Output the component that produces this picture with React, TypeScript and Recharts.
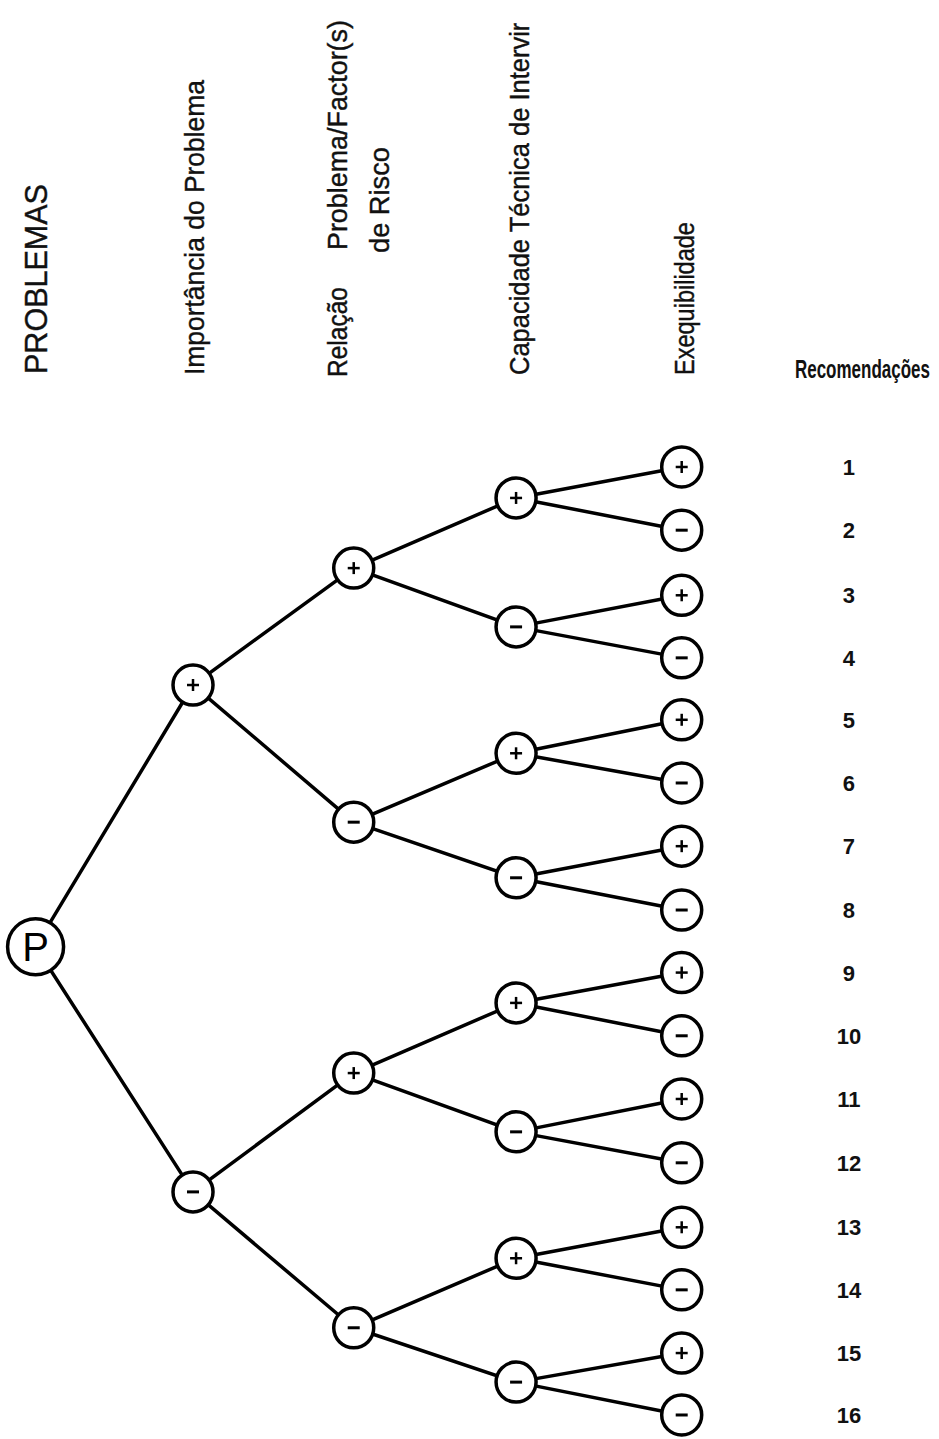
import React from "react";
import { ScatterChart, Scatter, XAxis, YAxis } from "recharts";

// column of each level (x axis) and row of each node (y axis, 1 = first recommendation)
const columns = [0.04, 1, 1.98, 2.97, 3.98, 5];

const headers = [
  ["PROBLEMAS"],
  ["Importância do Problema"],
  ["Relação", "Problema/Factor(s)", "de Risco"],
  ["Capacidade Técnica de Intervir"],
  ["Exequibilidade"],
  ["Recomendações"],
];

const rootRow = 8.59;
const importanciaRows = [4.45, 12.47];
const relacaoRows = [2.6, 6.62, 10.59, 14.62];
const capacidadeRows = [1.49, 3.53, 5.53, 7.5, 9.48, 11.52, 13.52, 15.48];
const exequibilidadeRows = [1, 2, 3.03, 4.02, 5, 6, 7, 8.01, 9, 10, 11, 12.01, 13.03, 14.02, 15.02, 16];
const recomendacoes = ["1", "2", "3", "4", "5", "6", "7", "8", "9", "10", "11", "12", "13", "14", "15", "16"];
const signs = ["+", "-"];

const FONT = "'Liberation Sans', Arial, Helvetica, sans-serif";

const levels = [
  [{ x: columns[0], y: rootRow, sign: "P" }],
  importanciaRows.map((y, i) => ({ x: columns[1], y, sign: signs[i % 2] })),
  relacaoRows.map((y, i) => ({ x: columns[2], y, sign: signs[i % 2] })),
  capacidadeRows.map((y, i) => ({ x: columns[3], y, sign: signs[i % 2] })),
  exequibilidadeRows.map((y, i) => ({ x: columns[4], y, sign: signs[i % 2] })),
];

// each parent gives one V: child, parent, child
const branches: { x: number; y: number }[][] = [];
for (let k = 0; k < levels.length - 1; k++) {
  levels[k].forEach((p, i) => {
    branches.push([levels[k + 1][2 * i], p, levels[k + 1][2 * i + 1]]);
  });
}

const nodes = levels.flat();
const labels = recomendacoes.map((t, i) => ({ x: columns[5], y: exequibilidadeRows[i], text: t }));
const headerPoints = headers.map((lines, i) => ({ x: columns[i], y: 0, idx: i, lines }));

// header placement relative to each column (page px)
const headerLayout = [
  [{ dx: 11, bottom: 374, len: 190, size: 32 }],
  [{ dx: 11, bottom: 375, len: 295, size: 28 }],
  [
    { dx: -7, bottom: 377, len: 90, size: 28 },
    { dx: -7, bottom: 250, len: 230, size: 28 },
    { dx: 35, bottom: 253, len: 106, size: 28 },
  ],
  [{ dx: 13, bottom: 375, len: 353, size: 28 }],
  [{ dx: 12, bottom: 375, len: 153, size: 28 }],
];

let ctx: CanvasRenderingContext2D | null = null;
const textWidth = (t: string, font: string) => {
  if (!ctx) ctx = document.createElement("canvas").getContext("2d");
  if (!ctx) return t.length * 12;
  ctx.font = font;
  return ctx.measureText(t).width;
};

const HeaderShape = (props: any) => {
  const { cx, payload } = props;
  const idx = payload.idx;
  if (idx === 5) {
    const s = 135 / textWidth(payload.lines[0], `bold 25px ${FONT}`);
    return (
      <text
        transform={`translate(${cx - 54},378) scale(${s},1)`}
        fontFamily={FONT}
        fontWeight="bold"
        fontSize={25}
        fill="#111"
      >
        {payload.lines[0]}
      </text>
    );
  }
  return (
    <g>
      {payload.lines.map((t: string, j: number) => {
        const l = headerLayout[idx][j];
        const s = l.len / textWidth(t, `${l.size}px ${FONT}`);
        return (
          <text
            key={j}
            transform={`translate(${cx + l.dx},${l.bottom}) rotate(-90) scale(${s},1)`}
            fontFamily={FONT}
            fontSize={l.size}
            fill="#111"
            stroke="#111"
            strokeWidth={0.4}
          >
            {t}
          </text>
        );
      })}
    </g>
  );
};

const NodeShape = (props: any) => {
  const { cx, cy, payload } = props;
  if (payload.sign === "P") {
    return (
      <g>
        <circle cx={cx} cy={cy} r={28} fill="#fff" stroke="#000" strokeWidth={3.5} />
        <text x={cx} y={cy + 14} textAnchor="middle" fontFamily={FONT} fontSize={40} fill="#000">
          P
        </text>
      </g>
    );
  }
  return (
    <g>
      <circle cx={cx} cy={cy} r={20} fill="#fff" stroke="#000" strokeWidth={3.5} />
      <line x1={cx - 6} x2={cx + 6} y1={cy} y2={cy} stroke="#000" strokeWidth={payload.sign === "+" ? 2.5 : 3} />
      {payload.sign === "+" && (
        <line x1={cx} x2={cx} y1={cy - 6} y2={cy + 6} stroke="#000" strokeWidth={2.5} />
      )}
    </g>
  );
};

const LabelShape = (props: any) => {
  const { cx, cy, payload } = props;
  return (
    <text x={cx} y={cy + 8} textAnchor="middle" fontFamily={FONT} fontWeight="bold" fontSize={22} fill="#111">
      {payload.text}
    </text>
  );
};

const Empty = () => <g />;

export default function App() {
  return (
    <div style={{ position: "absolute", left: 0, top: 0, width: 939, height: 1439, background: "#fff" }}>
      <ScatterChart width={939} height={1439} margin={{ top: 0, right: 0, bottom: 0, left: 0 }}>
        <XAxis type="number" dataKey="x" hide domain={[-0.177, 5.549]} allowDataOverflow />
        <YAxis type="number" dataKey="y" hide reversed domain={[-6.389, 16.38]} allowDataOverflow />
        {branches.map((b, i) => (
          <Scatter
            key={`b${i}`}
            data={b}
            line={{ stroke: "#000", strokeWidth: 3.5 }}
            shape={<Empty />}
            legendType="none"
            isAnimationActive={false}
          />
        ))}
        <Scatter data={nodes} shape={<NodeShape />} isAnimationActive={false} />
        <Scatter data={labels} shape={<LabelShape />} isAnimationActive={false} />
        <Scatter data={headerPoints} shape={<HeaderShape />} isAnimationActive={false} />
      </ScatterChart>
    </div>
  );
}
